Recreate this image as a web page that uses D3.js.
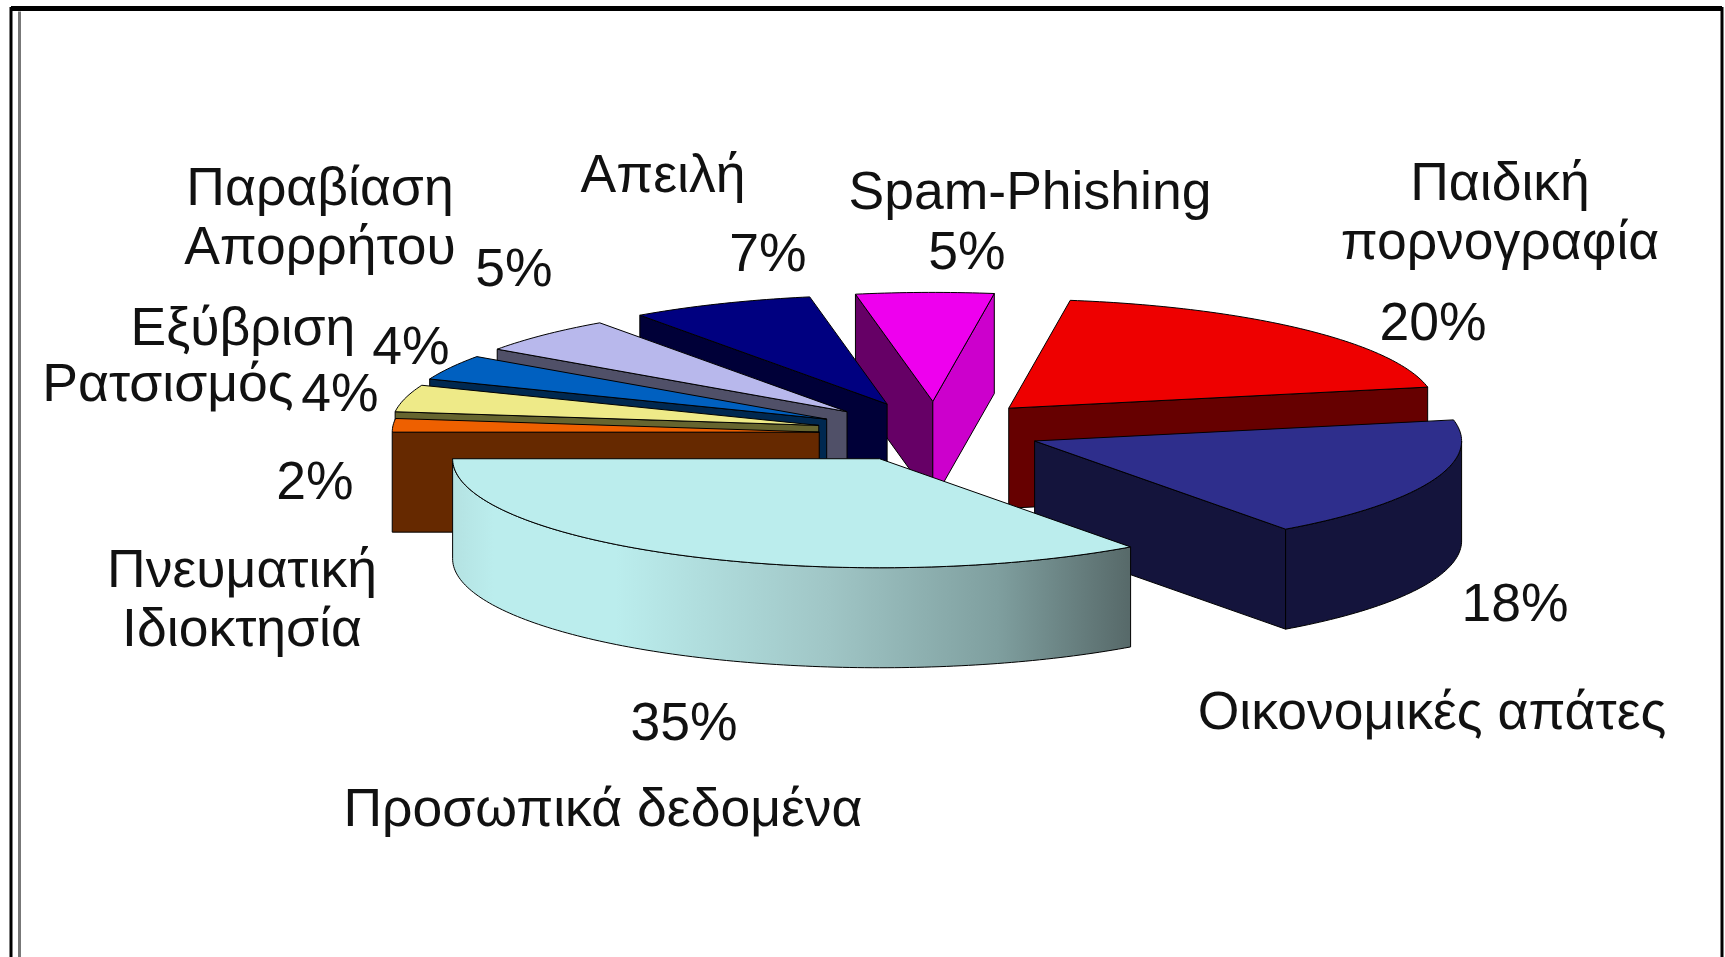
<!DOCTYPE html>
<html lang="el">
<head>
<meta charset="utf-8">
<title>Pie</title>
<script src="https://cdn.jsdelivr.net/npm/d3@7"></script>
<style>
html,body{margin:0;padding:0;background:#fff;overflow:hidden}
svg{display:block;filter:blur(0.6px)}
text{font-family:"Liberation Sans",Arial,sans-serif;fill:#111}
</style>
</head>
<body>
<svg id="chart" width="1725" height="957"></svg>
<script>
// Data, clockwise from the top slice
const categories = ["Spam-Phishing","Παιδική πορνογραφία","Οικονομικές απάτες","Προσωπικά δεδομένα","Πνευματική Ιδιοκτησία","Ρατσισμός","Εξύβριση","Παραβίαση Απορρήτου","Απειλή"];
const values = [5.2,19.6,18.1,35,2,4,3.72,5.45,6.93];

// Style and layout, separate from the data
const topColors  = ["#EE00EE","#EE0000","#2E2E8C","#BBEDED","#EE6000","#EEEA88","#0060C0","#B8B8EC","#000080"];
const wallColors = ["#660066","#660000","#14143C","url(#cyanWall)","#662900","#66652F","#002850","#505068","#000038"];
const rightWallColors = ["#CC00CC",null,null,null,null,null,null,null,null];
const explode = [116,107,107,122,116,120,123,124,123];
const lift = [0,-3,0,0,3,2,3,3,2];
const drawOrder = [0,8,7,6,5,4,1,2,3];
const nameLines = [["Spam-Phishing"],["Παιδική","πορνογραφία"],["Οικονομικές απάτες"],["Προσωπικά δεδομένα"],["Πνευματική","Ιδιοκτησία"],["Ρατσισμός"],["Εξύβριση"],["Παραβίαση","Απορρήτου"],["Απειλή"]];
const nameAnchors = [[1030,209],[1500,200],[1432,729],[603,826],[242,587],[168,401],[243,345],[320,205],[663,192]];
const pctAnchors  = [[967,269],[1433,340],[1515,621],[684,740],[315,499],[340,411],[411,364],[514,286],[768,271]];
const lineGap = 59;

const svg = d3.select("#chart");
const cx = 935, cy = 431, R = 427, Ry = 109, depth = 100, fontSize = 53.5;
const rad = d3.scaleLinear().domain([0,360]).range([0,2*Math.PI]);

const defs = svg.append("defs");
const grad = defs.append("linearGradient").attr("id","cyanWall")
  .attr("gradientUnits","userSpaceOnUse").attr("x1",453).attr("x2",1133).attr("y1",0).attr("y2",0);
[[0,"#B4E2E2"],[0.06,"#BBEDED"],[0.24,"#BBEDED"],[0.55,"#A0C6C6"],[0.8,"#7F9F9F"],[1,"#566868"]]
  .forEach(([o,c])=>grad.append("stop").attr("offset",o).attr("stop-color",c));

// Frame
const frame = svg.append("g");
frame.append("path").attr("d","M11,957V8.5H1722V957").attr("fill","none").attr("stroke","#000").attr("stroke-width",3);
frame.append("path").attr("d","M11,8.5H1722").attr("fill","none").attr("stroke","#000").attr("stroke-width",5);
frame.append("path").attr("d","M19.5,957V11.5").attr("fill","none").attr("stroke","#777").attr("stroke-width",3);

const pie = d3.pie().sort(null).value(d=>d).startAngle(rad(-10.44)).endAngle(rad(349.56));
const arcs = pie(values);

const line = d3.line().x(p=>p[0]).y(p=>p[1]);
function slicePoint(apex, a, dz=0){
  return [apex[0]+R*Math.sin(a), apex[1]-Ry*Math.cos(a)+dz];
}
function arcPoints(apex, a0, a1, dz=0){
  const n = Math.max(2, Math.ceil((a1-a0)/rad(1)));
  return d3.range(n+1).map(i=>slicePoint(apex, a0+(a1-a0)*i/n, dz));
}
const stroke = (sel)=>sel.attr("stroke","#000").attr("stroke-width",1).attr("stroke-linejoin","round");

const plot = svg.append("g");
drawOrder.forEach(i=>{
  const d = arcs[i];
  const mid = (d.startAngle+d.endAngle)/2;
  const apex = [cx+explode[i]*Math.sin(mid), cy+lift[i]-explode[i]*(Ry/R)*Math.cos(mid)];
  const g = plot.append("g").attr("class","slice").datum(categories[i]);
  const quad = (a)=>{
    const p = slicePoint(apex,a);
    return [apex,p,[p[0],p[1]+depth],[apex[0],apex[1]+depth]];
  };
  // Cut faces that turn toward the viewer
  if(Math.sin(d.startAngle)<0){
    g.append("path").attr("d",line(quad(d.startAngle))+"Z").attr("fill",wallColors[i]).call(stroke);
  }
  if(Math.sin(d.endAngle)>0){
    g.append("path").attr("d",line(quad(d.endAngle))+"Z").attr("fill",rightWallColors[i]||wallColors[i]).call(stroke);
  }
  // Outer rim, only where it faces the viewer: pie angles 90..270 deg
  const lo = Math.max(d.startAngle, rad(90)), hi = Math.min(d.endAngle, rad(270));
  if(hi>lo){
    const pts = arcPoints(apex,lo,hi).concat(arcPoints(apex,lo,hi,depth).reverse());
    g.append("path").attr("d",line(pts)+"Z").attr("fill",wallColors[i]).call(stroke);
  }
  // Top face
  g.append("path").attr("d",line([apex].concat(arcPoints(apex,d.startAngle,d.endAngle)))+"Z")
    .attr("fill",topColors[i]).call(stroke);
});

// Labels
const labels = svg.append("g").attr("font-size",fontSize).attr("text-anchor","middle");
nameLines.forEach((lines,i)=>{
  lines.forEach((t,j)=>labels.append("text").attr("x",nameAnchors[i][0]).attr("y",nameAnchors[i][1]+j*lineGap).text(t));
  labels.append("text").attr("x",pctAnchors[i][0]).attr("y",pctAnchors[i][1]).text(d3.format(".0f")(values[i])+"%");
});
</script>
</body>
</html>
